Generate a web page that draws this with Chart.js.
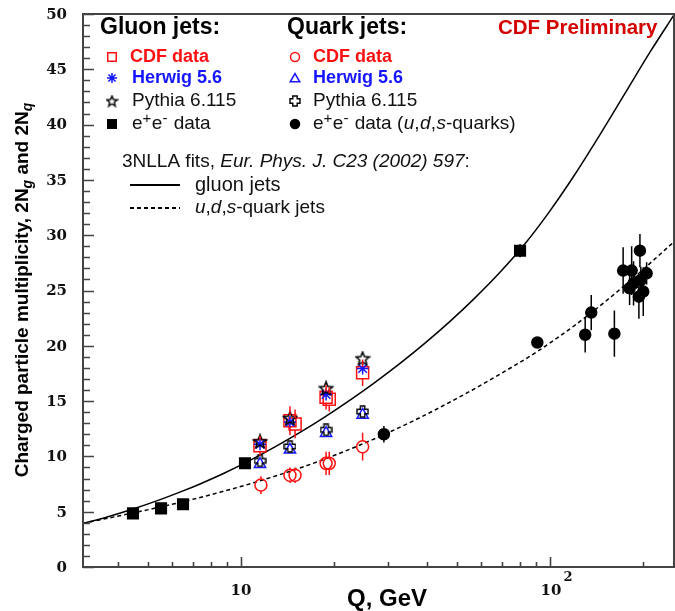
<!DOCTYPE html>
<html>
<head>
<meta charset="utf-8">
<script src="https://cdn.jsdelivr.net/npm/chart.js@4.4.1/dist/chart.umd.min.js"></script>
<style>
html, body { margin: 0; padding: 0; background: #fff; }
</style>
</head>
<body>
<canvas id="myChart" width="675" height="611"></canvas>
<script>
// 3NLLA fit curves
const gluonFitQ = [3.08, 3.71, 4.47, 5.39, 6.49, 7.37, 8.88, 10.69, 12.88, 15.52, 18.70, 22.53, 27.15, 32.71, 39.40, 47.47, 57.19, 68.90, 83.0, 100, 120.5, 145.2, 174.9, 210.7, 252];
const gluonFitN = [3.93, 4.54, 5.24, 6.02, 6.88, 7.51, 8.52, 9.64, 10.86, 12.17, 13.58, 15.09, 16.70, 18.41, 20.24, 22.21, 24.33, 26.64, 29.22, 32.20, 35.51, 39.10, 42.82, 46.55, 49.92];
const quarkFitQ = [3.08, 4.48, 5.47, 6.84, 8.55, 10.96, 14.4, 18.5, 23.7, 29.0, 37.9, 53.7, 68.8, 90.6, 125, 177, 252];
const quarkFitN = [3.95, 4.89, 5.42, 6.06, 6.76, 7.61, 8.65, 9.72, 10.91, 11.97, 13.5, 15.72, 17.43, 19.45, 22.2, 25.6, 29.4];

// gluon jets
const cdfGluonQ = [11.52, 14.4, 14.96, 18.85, 19.3, 24.75];
const cdfGluonN = [10.97, 13.23, 12.93, 15.34, 15.16, 17.57];
const cdfGluonErr = [0.9, 1.3, 1.3, 1.1, 1.1, 1.2];
const herwigGluonQ = [11.52, 14.4, 18.85, 24.75];
const herwigGluonN = [11.1, 13.1, 15.6, 17.95];
const pythiaGluonQ = [11.52, 14.4, 18.85, 24.75];
const pythiaGluonN = [11.35, 13.45, 16.15, 18.85];
const eeGluonQ = [4.47, 5.51, 6.49, 10.3, 80.0];
const eeGluonN = [4.85, 5.3, 5.67, 9.38, 28.6];
const eeGluonErr = [0, 0, 0, 0, 0.6];

// quark jets
const cdfQuarkQ = [11.6, 14.4, 14.96, 18.85, 19.3, 24.75];
const cdfQuarkN = [7.41, 8.3, 8.3, 9.37, 9.37, 10.88];
const cdfQuarkErr = [0.8, 0.7, 0.7, 1.05, 1.05, 1.25];
const herwigQuarkQ = [11.52, 14.4, 18.85, 24.75];
const herwigQuarkN = [9.3, 10.6, 12.1, 13.75];
const pythiaQuarkQ = [11.52, 14.4, 18.85, 24.75];
const pythiaQuarkN = [9.6, 10.9, 12.4, 14.05];
const eeQuarkQ = [29.0, 91.0, 130, 136, 161.6, 172.5, 183.8, 195.5, 205.5, 186.4, 196.8, 181, 194, 200.4];
const eeQuarkN = [12.0, 20.3, 21.0, 23.0, 21.1, 26.8, 26.8, 28.6, 26.55, 25.65, 25.95, 25.2, 24.44, 24.9];
const eeQuarkErr = [0.75, 0, 1.6, 1.6, 2.1, 2.1, 2.2, 1.5, 1.0, 2.0, 1.2, 1.5, 2.0, 2.2];

// axis ticks
const yTickLabels = [0, 5, 10, 15, 20, 25, 30, 35, 40, 45, 50];
const xMajorTicks = [10, 100];
const xMinorTicks = [4, 5, 6, 7, 8, 9, 20, 30, 40, 50, 60, 70, 80, 90, 200];

const RED = '#ff1010';
const BLUE = '#1515ff';
const SANS = "'Liberation Sans', Arial, sans-serif";
const SERIF = "'DejaVu Serif', serif";

function pts(q, n) {
    return q.map((v, i) => ({ x: v, y: n[i] }));
}

// open 5 point star (Pythia gluon)
function makeStar(size, lw) {
    const c = document.createElement('canvas');
    c.width = size; c.height = size;
    const g = c.getContext('2d');
    const cx = size / 2, cy = size / 2 + 0.5, ro = size / 2 - 1, ri = ro * 0.45;
    g.beginPath();
    for (let i = 0; i < 10; i++) {
        const r = i % 2 === 0 ? ro : ri;
        const a = -Math.PI / 2 + i * Math.PI / 5;
        const px = cx + r * Math.cos(a), py = cy + r * Math.sin(a);
        if (i === 0) g.moveTo(px, py); else g.lineTo(px, py);
    }
    g.closePath();
    g.lineWidth = lw;
    g.strokeStyle = '#000';
    g.stroke();
    return c;
}

// open greek cross (Pythia quark)
function makeCross(size) {
    const c = document.createElement('canvas');
    c.width = size; c.height = size;
    const g = c.getContext('2d');
    const m = size / 2, a = 2.2, b = size / 2 - 1;
    const p = [[-a, -b], [a, -b], [a, -a], [b, -a], [b, a], [a, a], [a, b], [-a, b], [-a, a], [-b, a], [-b, -a], [-a, -a]];
    g.beginPath();
    p.forEach((q, i) => i === 0 ? g.moveTo(m + q[0], m + q[1]) : g.lineTo(m + q[0], m + q[1]));
    g.closePath();
    g.lineWidth = 1.4;
    g.strokeStyle = '#000';
    g.stroke();
    return c;
}

const starImg = makeStar(16, 1.6);
const crossImg = makeCross(13);
const starImgSmall = makeStar(13, 1.4);
const crossImgSmall = makeCross(12);

function drawRich(ctx, x, y, parts) {
    ctx.textBaseline = 'middle';
    ctx.textAlign = 'left';
    parts.forEach(p => {
        ctx.font = p[1];
        ctx.fillStyle = p[2];
        ctx.fillText(p[0], x, y + (p[3] || 0));
        x += ctx.measureText(p[0]).width + (p[4] || 0);
    });
    return x;
}

function richWidth(ctx, parts) {
    let w = 0;
    parts.forEach(p => { ctx.font = p[1]; w += ctx.measureText(p[0]).width + (p[4] || 0); });
    return w;
}

function marker(ctx, style, r, x, y, color, filled) {
    ctx.save();
    ctx.strokeStyle = color;
    ctx.fillStyle = filled ? color : 'rgba(0,0,0,0)';
    ctx.lineWidth = 1.5;
    Chart.helpers.drawPoint(ctx, { pointStyle: style, radius: r, rotation: 0, borderWidth: 1.5 }, x, y);
    ctx.restore();
}

// error bars, drawn with a gap where the marker is
const errorBars = {
    id: 'errorBars',
    afterDatasetsDraw(chart) {
        const ctx = chart.ctx;
        const ys = chart.scales.y;
        chart.data.datasets.forEach((ds, i) => {
            if (!ds.errs) return;
            const meta = chart.getDatasetMeta(i);
            ctx.save();
            ctx.strokeStyle = ds.borderColor;
            ctx.lineWidth = 1.5;
            meta.data.forEach((el, j) => {
                const e = ds.errs[j];
                if (!e) return;
                const v = ds.data[j].y;
                const top = ys.getPixelForValue(v + e);
                const bot = ys.getPixelForValue(v - e);
                const gap = ds.errGap || 0;
                ctx.beginPath();
                if (top < el.y - gap) { ctx.moveTo(el.x, top); ctx.lineTo(el.x, el.y - gap); }
                if (bot > el.y + gap) { ctx.moveTo(el.x, el.y + gap); ctx.lineTo(el.x, bot); }
                ctx.stroke();
            });
            ctx.restore();
        });
    }
};

// frame, ticks, labels, titles and legend text
const decorations = {
    id: 'decorations',
    afterDraw(chart) {
        const ctx = chart.ctx;
        const a = chart.chartArea;
        const xs = chart.scales.x, ys = chart.scales.y;
        ctx.save();

        ctx.strokeStyle = '#444';
        ctx.lineWidth = 2;
        ctx.strokeRect(a.left, a.top, a.right - a.left, a.bottom - a.top);

        ctx.lineWidth = 1.6;
        ctx.beginPath();
        for (let v = 0; v <= 50; v++) {
            const y = Math.round(ys.getPixelForValue(v)) + 0.5;
            const len = v % 5 === 0 ? 11 : 7;
            ctx.moveTo(a.left, y); ctx.lineTo(a.left + len, y);
        }
        xMajorTicks.forEach(q => {
            const x = Math.round(xs.getPixelForValue(q)) + 0.5;
            ctx.moveTo(x, a.bottom); ctx.lineTo(x, a.bottom - 10);
        });
        xMinorTicks.forEach(q => {
            const x = Math.round(xs.getPixelForValue(q)) + 0.5;
            ctx.moveTo(x, a.bottom); ctx.lineTo(x, a.bottom - 5);
        });
        ctx.stroke();

        // tick labels
        ctx.fillStyle = '#111';
        ctx.font = 'bold 15px ' + SERIF;
        ctx.textAlign = 'right';
        ctx.textBaseline = 'middle';
        yTickLabels.forEach(v => ctx.fillText(String(v), a.left - 16, ys.getPixelForValue(v) + 1));
        ctx.textAlign = 'center';
        ctx.fillText('10', xs.getPixelForValue(10), 591);
        ctx.fillText('10', xs.getPixelForValue(100) + 1, 591);
        ctx.font = 'bold 13px ' + SERIF;
        ctx.fillText('2', xs.getPixelForValue(100) + 18, 578);

        // axis titles
        ctx.fillStyle = '#000';
        ctx.font = 'bold 24px ' + SANS;
        ctx.textAlign = 'center';
        ctx.fillText('Q, GeV', 387, 599);

        const bf = 'bold 19px ' + SANS;
        const sub = 'italic bold 14px ' + SANS;
        const ytitle = [
            ['Charged particle multiplicity, 2N', bf, '#000'],
            ['g', sub, '#000', 5],
            [' and 2N', bf, '#000'],
            ['q', sub, '#000', 5]
        ];
        ctx.translate(23, 290);
        ctx.rotate(-Math.PI / 2);
        drawRich(ctx, -richWidth(ctx, ytitle) / 2, 0, ytitle);
        ctx.restore();

        // legend
        ctx.save();
        const hf = 'bold 23px ' + SANS;
        const lf = 'bold 18px ' + SANS;
        const nf = '19px ' + SANS;
        const nfi = 'italic 19px ' + SANS;
        const sup = '15px ' + SANS;
        const K = '#111';
        drawRich(ctx, 100, 28, [['Gluon jets:', hf, '#000']]);
        drawRich(ctx, 287, 28, [['Quark jets:', hf, '#000']]);
        drawRich(ctx, 498, 28, [['CDF Preliminary', 'bold 20.5px ' + SANS, '#d40000']]);

        const rows = [57, 78, 101, 124];
        const ee = [['e', nf, K], ['+', sup, K, -5, 0.5], ['e', nf, K], ['-', sup, K, -5, 1]];
        drawRich(ctx, 130, rows[0], [['CDF data', lf, RED]]);
        drawRich(ctx, 132, rows[1], [['Herwig 5.6', lf, BLUE]]);
        drawRich(ctx, 132, rows[2], [['Pythia 6.115', nf, K]]);
        drawRich(ctx, 132, rows[3], ee.concat([[' data', nf, K]]));

        drawRich(ctx, 313, rows[0], [['CDF data', lf, RED]]);
        drawRich(ctx, 313, rows[1], [['Herwig 5.6', lf, BLUE]]);
        drawRich(ctx, 313, rows[2], [['Pythia 6.115', nf, K]]);
        drawRich(ctx, 313, rows[3], ee.concat([
            [' data (', nf, K, 0, 0.5], ['u', nfi, K], [',', nf, K, 0, 0.5], ['d', nfi, K], [',', nf, K, 0, 0.5], ['s', nfi, K], ['-quarks)', nf, K]]));

        marker(ctx, 'rect', 6, 112, rows[0], RED, false);
        marker(ctx, 'star', 5, 112, rows[1], BLUE, false);
        ctx.drawImage(starImgSmall, 112 - 6.5, rows[2] - 6.5);
        marker(ctx, 'rect', 6, 112, rows[3], '#000', true);
        marker(ctx, 'circle', 4.5, 295, rows[0], RED, false);
        marker(ctx, 'triangle', 5.5, 295, rows[1] + 1, BLUE, false);
        ctx.drawImage(crossImgSmall, 295 - 6, rows[2] - 6);
        marker(ctx, 'circle', 4.5, 295, rows[3], '#000', true);

        const sf = '19px ' + SANS;
        const sfi = 'italic 19px ' + SANS;
        drawRich(ctx, 122, 162, [['3NLLA fits, ', sf, K], ['Eur. Phys. J. C23 (2002) 597', sfi, K], [':', sf, K]]);
        ctx.strokeStyle = '#000';
        ctx.lineWidth = 2;
        ctx.beginPath(); ctx.moveTo(130, 185); ctx.lineTo(180, 185); ctx.stroke();
        ctx.setLineDash([4, 3]);
        ctx.beginPath(); ctx.moveTo(130, 208); ctx.lineTo(180, 208); ctx.stroke();
        ctx.setLineDash([]);
        drawRich(ctx, 195, 185, [['gluon jets', '20px ' + SANS, K]]);
        drawRich(ctx, 195, 208, [['u', sfi, K], [',', sf, K], ['d', sfi, K], [',', sf, K], ['s', sfi, K], ['-quark jets', sf, K]]);
        ctx.restore();
    }
};

function scatter(label, q, n, style, r, color, filled, extra) {
    return Object.assign({
        label: label,
        data: pts(q, n),
        showLine: false,
        pointStyle: style,
        pointRadius: r,
        pointBorderWidth: 1.5,
        borderColor: color,
        pointBorderColor: color,
        pointBackgroundColor: filled ? color : 'rgba(0,0,0,0)'
    }, extra || {});
}

const ctx = document.getElementById('myChart').getContext('2d');
new Chart(ctx, {
    type: 'scatter',
    data: {
        datasets: [
            scatter('Pythia 6.115 gluon', pythiaGluonQ, pythiaGluonN, starImg, 8, '#000', false),
            scatter('Herwig 5.6 gluon', herwigGluonQ, herwigGluonN, 'star', 6, BLUE, false),
            scatter('CDF data gluon', cdfGluonQ, cdfGluonN, 'rect', 8.5, RED, false, { errs: cdfGluonErr, errGap: 6 }),
            scatter('e+e- gluon', eeGluonQ, eeGluonN, 'rect', 7.5, '#000', true, { errs: eeGluonErr, errGap: 5 }),
            scatter('Pythia 6.115 quark', pythiaQuarkQ, pythiaQuarkN, crossImg, 6, '#000', false),
            scatter('Herwig 5.6 quark', herwigQuarkQ, herwigQuarkN, 'triangle', 6.5, BLUE, false),
            scatter('CDF data quark', cdfQuarkQ, cdfQuarkN, 'circle', 6, RED, false, { errs: cdfQuarkErr, errGap: 6 }),
            scatter('e+e- quark', eeQuarkQ, eeQuarkN, 'circle', 5.5, '#000', true, { errs: eeQuarkErr, errGap: 0 }),
            {
                label: 'gluon fit',
                data: pts(gluonFitQ, gluonFitN),
                showLine: true,
                borderColor: '#000',
                borderWidth: 1.5,
                pointRadius: 0,
                cubicInterpolationMode: 'monotone'
            },
            {
                label: 'quark fit',
                data: pts(quarkFitQ, quarkFitN),
                showLine: true,
                borderColor: '#000',
                borderWidth: 1.5,
                borderDash: [4, 3],
                pointRadius: 0,
                cubicInterpolationMode: 'monotone'
            }
        ]
    },
    options: {
        responsive: false,
        animation: false,
        devicePixelRatio: 1,
        layout: { autoPadding: false, padding: { left: 83, right: 1, top: 14, bottom: 44 } },
        scales: {
            x: { type: 'logarithmic', min: 3.08, max: 252, display: false },
            y: { type: 'linear', min: 0, max: 50, display: false }
        },
        plugins: {
            legend: { display: false },
            tooltip: { enabled: false }
        }
    },
    plugins: [errorBars, decorations]
});
</script>
</body>
</html>
